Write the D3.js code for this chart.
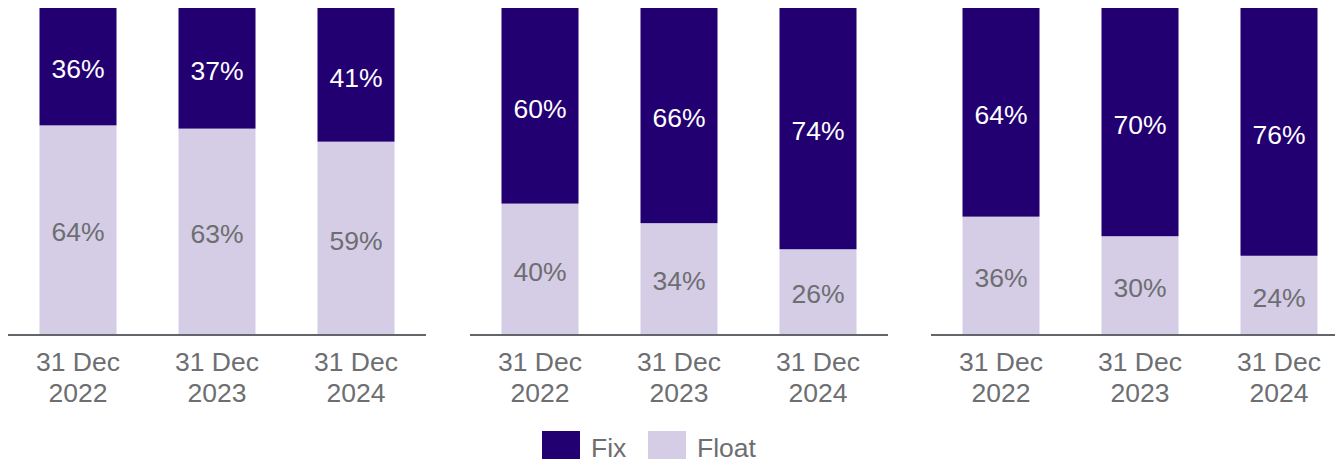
<!DOCTYPE html>
<html>
<head>
<meta charset="utf-8">
<script src="https://cdn.jsdelivr.net/npm/d3@7"></script>
<style>
  body { margin: 0; background: #fff; }
  svg { display: block; }
  svg text { font-family: Arial, "Liberation Sans", Helvetica, sans-serif; }
</style>
</head>
<body>
<div id="chart"></div>
<script>
// data
const dates = ["31 Dec 2022", "31 Dec 2023", "31 Dec 2024"];
const fixPanel1 = [36, 37, 41];
const fixPanel2 = [60, 66, 74];
const fixPanel3 = [64, 70, 76];
const floatPanel1 = [64, 63, 59];
const floatPanel2 = [40, 34, 26];
const floatPanel3 = [36, 30, 24];
const seriesNames = ["Fix", "Float"];

const panels = [
  { fix: fixPanel1, float: floatPanel1 },
  { fix: fixPanel2, float: floatPanel2 },
  { fix: fixPanel3, float: floatPanel3 }
];

const width = 1335, height = 459;
const colors = { Fix: "#230071", Float: "#d5cce6" };
const gray = "#6d6e71";
const fontSize = 26.5;

const svg = d3.select("#chart").append("svg")
  .attr("width", width)
  .attr("height", height);

const y = d3.scaleLinear().domain([0, 100]).range([334, 8]);

const panelX = [8, 470, 931];
const panelW = 418;

panels.forEach((p, pi) => {
  const g = svg.append("g").attr("transform", `translate(${panelX[pi]},0)`);

  const x = d3.scaleBand()
    .domain(dates)
    .range([0, panelW])
    .paddingInner(62 / 139)
    .paddingOuter(31.5 / 139);

  // stack: Float at bottom, Fix on top
  const rows = dates.map((d, i) => ({ date: d, Float: p.float[i], Fix: p.fix[i] }));
  const stack = d3.stack().keys(["Float", "Fix"])(rows);

  stack.forEach(layer => {
    const key = layer.key;
    g.selectAll(null)
      .data(layer)
      .enter()
      .append("rect")
      .attr("x", d => x(d.data.date))
      .attr("y", d => y(d[1]))
      .attr("width", x.bandwidth())
      .attr("height", d => y(d[0]) - y(d[1]))
      .attr("fill", colors[key]);

    g.selectAll(null)
      .data(layer)
      .enter()
      .append("text")
      .attr("x", d => x(d.data.date) + x.bandwidth() / 2)
      .attr("y", d => (y(d[0]) + y(d[1])) / 2 + 2.5)
      .attr("dy", "0.35em")
      .attr("text-anchor", "middle")
      .attr("font-size", fontSize)
      .attr("fill", key === "Fix" ? "#fff" : gray)
      .text(d => d.data[key] + "%");
  });

  // baseline
  const lineEnd = pi === 2 ? width - panelX[pi] : panelW;
  g.append("line")
    .attr("x1", 0).attr("x2", lineEnd)
    .attr("y1", y(0) + 1).attr("y2", y(0) + 1)
    .attr("stroke", "#62656a")
    .attr("stroke-width", 2);

  // axis labels, two lines
  const lbl = g.selectAll(null)
    .data(dates)
    .enter()
    .append("text")
    .attr("text-anchor", "middle")
    .attr("font-size", fontSize)
    .attr("fill", gray);
  lbl.append("tspan")
    .attr("x", d => x(d) + x.bandwidth() / 2)
    .attr("y", 371)
    .text(d => d.split(" ").slice(0, 2).join(" "));
  lbl.append("tspan")
    .attr("x", d => x(d) + x.bandwidth() / 2)
    .attr("y", 402)
    .text(d => d.split(" ")[2]);
});

// legend
const legendX = [542, 648];
const legend = svg.append("g");
seriesNames.forEach((name, i) => {
  legend.append("rect")
    .attr("x", legendX[i])
    .attr("y", 431)
    .attr("width", 38)
    .attr("height", 28)
    .attr("fill", colors[name]);
  legend.append("text")
    .attr("x", legendX[i] + 49)
    .attr("y", 457)
    .attr("font-size", fontSize)
    .attr("fill", gray)
    .text(name);
});
</script>
</body>
</html>
